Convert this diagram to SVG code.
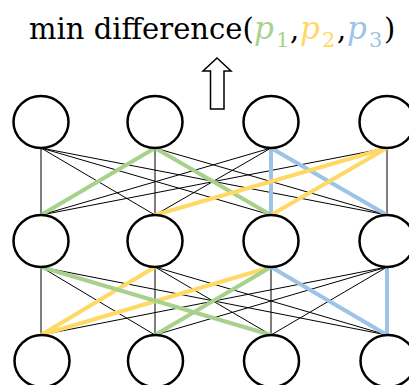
<svg xmlns="http://www.w3.org/2000/svg" width="409" height="385" viewBox="0 0 409 385">
<style>
.node{fill:#fff;stroke:#000;stroke-width:2.5}
.thin{stroke:#000;stroke-width:1;fill:none}
.g{stroke:#A9D18E;stroke-width:4;fill:none;stroke-linecap:round}
.y{stroke:#FFD966;stroke-width:4;fill:none;stroke-linecap:round}
.b{stroke:#9DC3E6;stroke-width:4;fill:none;stroke-linecap:round}
.t{font-family:"DejaVu Serif","Liberation Serif",serif;font-size:29px;fill:#000}
.p{font-style:italic;font-size:31px}
.sub{font-size:21px;font-style:normal}
</style>
<rect width="409" height="385" fill="#fff"/>
<g id="title">
<text class="t" y="38.5"><tspan x="29">min difference(</tspan><tspan class="p" x="254" fill="#A9D18E">p</tspan><tspan class="sub" x="276" y="47" fill="#A9D18E">1</tspan><tspan x="290" y="38.5">,</tspan><tspan class="p" x="300" fill="#FFD966">p</tspan><tspan class="sub" x="322" y="47" fill="#FFD966">2</tspan><tspan x="337" y="38.5">,</tspan><tspan class="p" x="347" fill="#9DC3E6">p</tspan><tspan class="sub" x="369" y="47" fill="#9DC3E6">3</tspan><tspan x="384" y="38.5">)</tspan></text>
</g>
<g id="arrow">
<polygon points="217,58 231,71 224,71 224,109 210.5,109 210.5,71 203,71" fill="#fff" stroke="#000" stroke-width="1.5" stroke-linejoin="miter"/>
</g>
<g id="connectors">
<g class="thin">
<path d="M41,148L41,215M41,148L155,215M41,148L271,215M41,148L387,215
M155,148L41,215M155,148L155,215M155,148L271,215M155,148L387,215
M271,148L41,215M271,148L155,215M271,148L271,215M271,148L387,215
M387,148L41,215M387,148L155,215M387,148L271,215M387,148L387,215"/>
<path d="M41,267L41,335M41,267L155,335M41,267L271,335M41,267L387,335
M155,267L41,335M155,267L155,335M155,267L271,335M155,267L387,335
M271,267L41,335M271,267L155,335M271,267L271,335M271,267L387,335
M387,267L41,335M387,267L155,335M387,267L271,335M387,267L387,335"/>
</g>
<path class="g" d="M155,148L41,215M155,148L271,215"/>
<path class="b" d="M271,148L271,215M271,148L387,215"/>
<path class="y" d="M387,148L155,215M387,148L271,215"/>
<path class="y" d="M155,267L41,335M271,267L41,335"/>
<path class="g" d="M41,267L271,335M271,267L155,335"/>
<path class="b" d="M271,267L387,335M387,267L387,335"/>
</g>
<g id="n1"><ellipse class="node" cx="41" cy="122" rx="27.5" ry="26"/></g>
<g id="n2"><ellipse class="node" cx="155" cy="122" rx="27.5" ry="26"/></g>
<g id="n3"><ellipse class="node" cx="271" cy="122" rx="27.5" ry="26"/></g>
<g id="n4"><ellipse class="node" cx="387" cy="122" rx="27.5" ry="26"/></g>
<g id="n5"><ellipse class="node" cx="41" cy="241" rx="27.5" ry="26"/></g>
<g id="n6"><ellipse class="node" cx="155" cy="241" rx="27.5" ry="26"/></g>
<g id="n7"><ellipse class="node" cx="271" cy="241" rx="27.5" ry="26"/></g>
<g id="n8"><ellipse class="node" cx="387" cy="241" rx="27.5" ry="26"/></g>
<g id="n9"><ellipse class="node" cx="42" cy="361" rx="27.5" ry="26"/></g>
<g id="n10"><ellipse class="node" cx="155.5" cy="361" rx="27.5" ry="26"/></g>
<g id="n11"><ellipse class="node" cx="271.5" cy="361" rx="27.5" ry="26"/></g>
<g id="n12"><ellipse class="node" cx="388" cy="361" rx="27.5" ry="26"/></g>
</svg>
